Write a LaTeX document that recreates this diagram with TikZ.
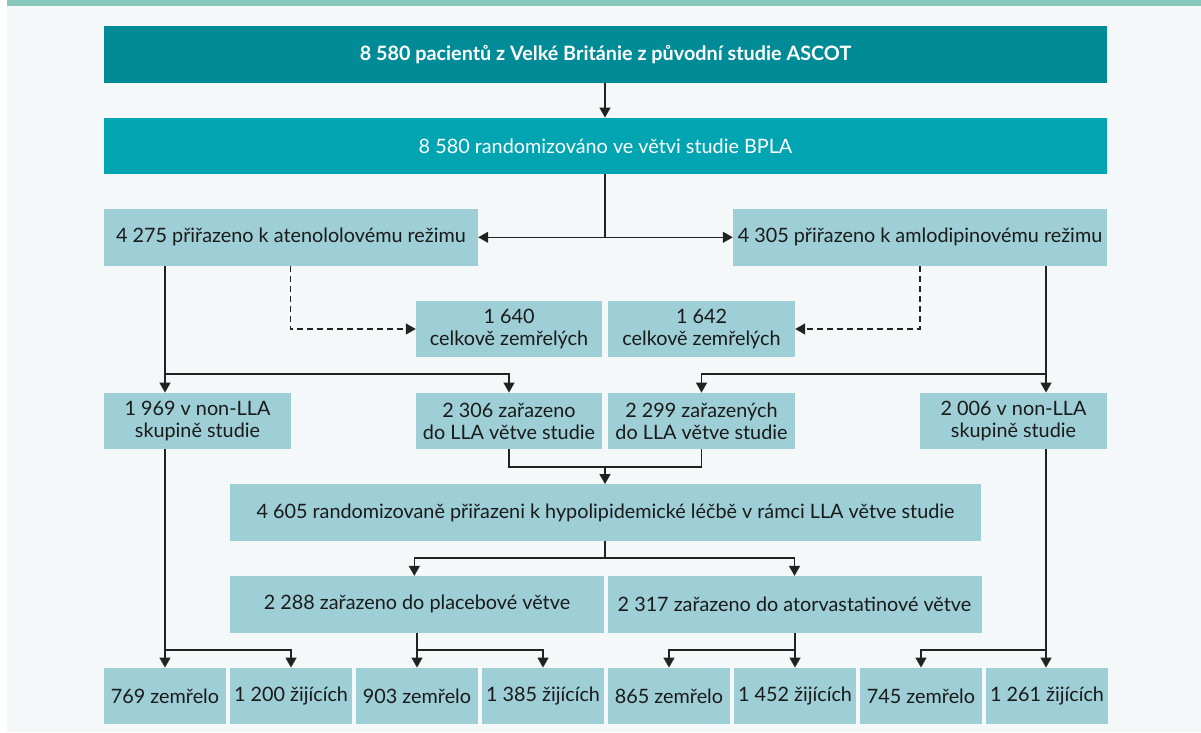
\documentclass[tikz,border=0pt]{standalone}
\usepackage{fontspec}
\setmainfont{Lato}
\usetikzlibrary{arrows.meta}
\definecolor{bgc}{HTML}{F4F8F8}
\definecolor{barc}{HTML}{88C9BC}
\definecolor{darkc}{HTML}{008B96}
\definecolor{midc}{HTML}{00A5B1}
\definecolor{lightc}{HTML}{9ECFD6}
\definecolor{txtc}{HTML}{1A1A1A}
\definecolor{linec}{HTML}{222222}
\tikzset{
  box/.style={rectangle, fill=lightc, inner sep=0pt, minimum height=56.5pt, text=txtc,
    align=center, font=\fontsize{19.8}{22}\selectfont},
  topbox/.style={box, fill=darkc, text=white, font=\fontsize{19.8}{22}\selectfont\bfseries},
  midbox/.style={box, fill=midc, text=white},
  conn/.style={draw=linec, line width=1.3pt},
  arr/.style={conn, -{Triangle[length=10pt,width=11pt]}},
  darr/.style={arr, dash pattern=on 6pt off 4pt}
}
\begin{document}
\begin{tikzpicture}[x=1pt,y=-1pt]
\useasboundingbox (0,0) rectangle (1201,732);
\fill[bgc] (7,6) rectangle (1201,732);
\fill[barc] (7,0) rectangle (1201,6);

\node[topbox, minimum width=1003pt] (b1) at (605.5,54.3) {8 580 pacientů z Velké Británie z původní studie ASCOT};
\node[midbox, minimum width=1003pt] (b2) at (605.5,146) {8 580 randomizováno ve větvi studie BPLA};
\node[box, minimum width=374pt] (b3) at (291,237.3) {4 275 přiřazeno k atenololovému režimu};
\node[box, minimum width=374pt] (b4) at (920,237.3) {4 305 přiřazeno k amlodipinovému režimu};
\node[box, minimum width=186pt] (b5) at (509,329) {1 640\\celkově zemřelých};
\node[box, minimum width=187pt] (b6) at (701.5,329) {1 642\\celkově zemřelých};
\node[box, minimum width=187pt] (b7) at (197.5,421) {1 969 v non-LLA\\skupině studie};
\node[box, minimum width=186pt] (b8) at (509,421) {2 306 zařazeno\\do LLA větve studie};
\node[box, minimum width=187pt] (b9) at (701.5,421) {2 299 zařazených\\do LLA větve studie};
\node[box, minimum width=187pt] (b10) at (1013.5,421) {2 006 v non-LLA\\skupině studie};
\node[box, minimum width=751pt] (b11) at (605.5,512.5) {4 605 randomizovaně přiřazeni k hypolipidemické léčbě v rámci LLA větve studie};
\node[box, minimum width=374pt] (b12) at (417,604.3) {2 288 zařazeno do placebové větve};
\node[box, minimum width=374pt] (b13) at (794.5,604.3) {2 317 zařazeno do atorvastatinové větve};

\node[box, minimum width=122pt] (c1) at (165,696) {769 zemřelo};
\node[box, minimum width=122pt] (c2) at (291,696) {1 200 žijících};
\node[box, minimum width=122pt] (c3) at (417,696) {903 zemřelo};
\node[box, minimum width=122pt] (c4) at (543,696) {1 385 žijících};
\node[box, minimum width=122pt] (c5) at (669,696) {865 zemřelo};
\node[box, minimum width=122pt] (c6) at (795,696) {1 452 žijících};
\node[box, minimum width=122pt] (c7) at (921,696) {745 zemřelo};
\node[box, minimum width=122pt] (c8) at (1047,696) {1 261 žijících};

% joints
\coordinate (j1) at (605,237.3);
\coordinate (d1) at (290.7,329);
\coordinate (j2) at (165,374);
\coordinate (j3) at (1046,374);
\coordinate (j4) at (605,467);
\coordinate (j5) at (605,558);
\coordinate (k1) at (165,650);
\coordinate (k2) at (417,650);
\coordinate (k3) at (795,650);
\coordinate (k4) at (1046,650);

\draw[arr] (b1.south -| j1) -- (b2.north -| j1);
\draw[conn] (b2.south -| j1) -- (j1);
\draw[arr] (j1) -- (b3.east);
\draw[arr] (j1) -- (b4.west);

\draw[darr] (d1 |- b3.south) -- (d1) -- (b5.west);
\draw[darr] (b4.south) |- (b6.east);

\draw[arr] (j2 |- b3.south) -- (j2 |- b7.north);
\draw[arr] (j2) -| (b8.north);
\draw[arr] (j3 |- b4.south) -- (j3 |- b10.north);
\draw[arr] (j3) -| (b9.north);

\draw[conn] (b8.south) |- (j4) -| (b9.south);
\draw[arr] (j4) -- (b11.north -| j4);

\draw[conn] (b11.south -| j5) -- (j5);
\draw[arr] (j5) -| (b12.north -| 414.3,0);
\draw[arr] (j5) -| (b13.north);

\draw[arr] (k1 |- b7.south) -- (c1.north);
\draw[arr] (k1) -| (c2.north);
\draw[arr] (b12.south -| k2) -- (c3.north);
\draw[arr] (k2) -| (c4.north);
\draw[arr] (b13.south -| k3) -- (c6.north);
\draw[arr] (k3) -| (c5.north);
\draw[arr] (k4 |- b10.south) -- (k4 |- c8.north);
\draw[arr] (k4) -| (c7.north);
\end{tikzpicture}
\end{document}
